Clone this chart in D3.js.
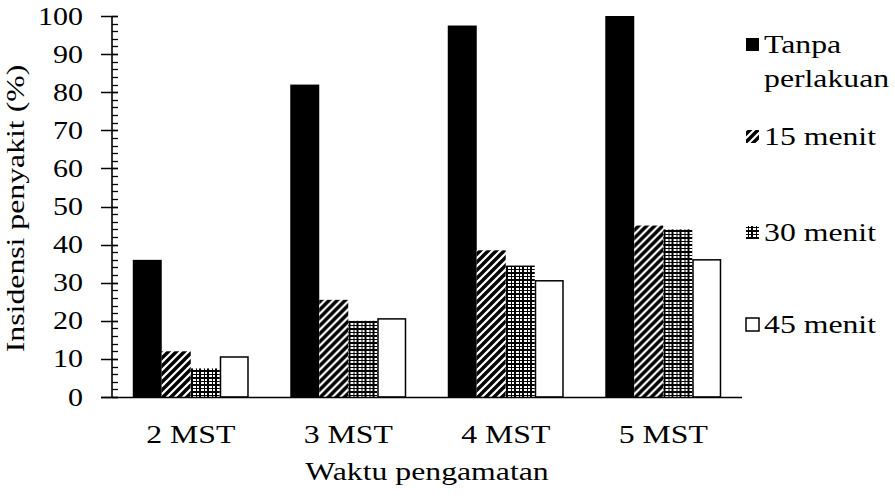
<!DOCTYPE html>
<html>
<head>
<meta charset="utf-8">
<script src="https://cdn.jsdelivr.net/npm/d3@7"></script>
<style>
  html, body { margin: 0; padding: 0; background: #fff; }
  svg { display: block; }
</style>
</head>
<body>
<svg id="chart" width="895" height="498"></svg>
<script>
// ---- data ----
const categories = ["2 MST", "3 MST", "4 MST", "5 MST"];
const seriesNames = ["Tanpa perlakuan", "15 menit", "30 menit", "45 menit"];
const tanpaPerlakuan = [36, 82, 97.5, 100];
const menit15 = [12, 25.5, 38.5, 45];
const menit30 = [7.5, 20, 34.5, 44];
const menit45 = [10.5, 20.5, 30.5, 36];
const yTicks = [0, 10, 20, 30, 40, 50, 60, 70, 80, 90, 100];
const legendLabels = [["Tanpa", "perlakuan"], ["15 menit"], ["30 menit"], ["45 menit"]];
const xTitle = "Waktu pengamatan";
const yTitle = "Insidensi penyakit (%)";

const seriesValues = [tanpaPerlakuan, menit15, menit30, menit45];
const rows = categories.map((c, i) => ({
  cat: c,
  vals: seriesNames.map((s, j) => ({ key: s, idx: j, value: seriesValues[j][i] }))
}));

// ---- layout ----
const svg = d3.select("#chart");
const FAMILY = "Liberation Serif";
const plot = { left: 112, right: 742, top: 16, bottom: 397 };
const FONT = 25, STRETCH = 1.27;

const defs = svg.append("defs");
// wide upward diagonal
const pDiag = defs.append("pattern").attr("id", "pDiag").attr("patternUnits", "userSpaceOnUse")
  .attr("width", 8).attr("height", 8);
pDiag.append("rect").attr("width", 8).attr("height", 8).attr("fill", "#fff");
pDiag.append("path").attr("d", "M0,8 L8,0 M-2,2 L2,-2 M6,10 L10,6")
  .attr("stroke", "#000").attr("stroke-width", 3.4);
// sphere-like dark grid pattern
const pGrid = defs.append("pattern").attr("id", "pGrid").attr("patternUnits", "userSpaceOnUse")
  .attr("width", 8).attr("height", 7);
pGrid.append("rect").attr("width", 8).attr("height", 7).attr("fill", "#000");
[[1,1,3,2],[5,1,2,2],[1,4,3,2],[5,4,2,2]].forEach(r =>
  pGrid.append("rect").attr("x", r[0]).attr("y", r[1]).attr("width", r[2]).attr("height", r[3]).attr("fill", "#fff"));

const fills = ["#000", "url(#pDiag)", "url(#pGrid)", "#fff"];
const strokes = ["none", "none", "none", "#000"];

const x0 = d3.scaleBand().domain(categories).range([plot.left, plot.right]).paddingInner(0).paddingOuter(0);
const x1 = d3.scaleBand().domain(seriesNames).range([0, x0.bandwidth()]).paddingInner(0).paddingOuter(0.716);
const y = d3.scaleLinear().domain([0, 100]).range([plot.bottom, plot.top]);

function stretch(sel, k) {
  sel.each(function () {
    const len = this.getComputedTextLength();
    d3.select(this).attr("textLength", len * k).attr("lengthAdjust", "spacingAndGlyphs");
  });
}
function txt(parent) {
  return parent.append("text").style("font-family", FAMILY).attr("font-size", FONT).attr("fill", "#000");
}

// bars
const groups = svg.append("g").selectAll("g").data(rows).join("g")
  .attr("transform", d => `translate(${x0(d.cat)},0)`);
groups.selectAll("rect").data(d => d.vals).join("rect")
  .attr("x", d => x1(d.key) + (d.idx === 3 ? 0.75 : 0))
  .attr("y", d => y(d.value))
  .attr("width", d => x1.bandwidth() - (d.idx === 3 ? 1.5 : 0))
  .attr("height", d => y(0) - y(d.value))
  .attr("fill", d => fills[d.idx])
  .attr("stroke", d => strokes[d.idx])
  .attr("stroke-width", 1.5);

// y axis: minor ticks (every 2) inside, major crossing
const minor = d3.range(0, 101, 2);
const yAxisG = svg.append("g");
yAxisG.selectAll("line.minor").data(minor).join("line").attr("class", "minor")
  .attr("x1", plot.left).attr("x2", plot.left + 6)
  .attr("y1", d => Math.round(y(d)) + 0.5).attr("y2", d => Math.round(y(d)) + 0.5)
  .attr("stroke", "#000").attr("stroke-width", 1.3);
yAxisG.selectAll("line.major").data(yTicks).join("line").attr("class", "major")
  .attr("x1", plot.left - 11).attr("x2", plot.left + 6)
  .attr("y1", d => Math.round(y(d)) + 0.5).attr("y2", d => Math.round(y(d)) + 0.5)
  .attr("stroke", "#000").attr("stroke-width", 1.5);
yAxisG.append("line").attr("x1", plot.left).attr("x2", plot.left)
  .attr("y1", y(100)).attr("y2", y(0)).attr("stroke", "#000").attr("stroke-width", 1.6);
yTicks.forEach(v => {
  const t = txt(yAxisG).attr("x", 83).attr("y", y(v)).attr("dy", "0.34em")
    .attr("text-anchor", "end").text(v);
  stretch(t, 1.2);
});

// x axis line + labels
svg.append("line").attr("x1", plot.left - 11).attr("x2", plot.right)
  .attr("y1", y(0) + 0.5).attr("y2", y(0) + 0.5).attr("stroke", "#000").attr("stroke-width", 1.6);
const xg = svg.append("g");
categories.forEach(c => {
  const t = txt(xg).attr("x", x0(c) + x0.bandwidth() / 2).attr("y", 443)
    .attr("text-anchor", "middle").text(c);
  stretch(t, STRETCH);
});

// axis titles (centered on plot area)
const xt = txt(svg).attr("x", (plot.left + plot.right) / 2).attr("y", 480)
  .attr("text-anchor", "middle").text(xTitle);
stretch(xt, STRETCH);
const yt = txt(svg).attr("transform", `translate(24,${(plot.top + plot.bottom) / 2 + 2}) rotate(-90)`)
  .attr("text-anchor", "middle").text(yTitle);
stretch(yt, STRETCH);

// legend
const legendY = [45, 137, 233, 325];
const lg = svg.append("g");
seriesNames.forEach((s, i) => {
  lg.append("rect").attr("x", 746).attr("y", legendY[i] - 7).attr("width", 13).attr("height", 13)
    .attr("fill", fills[i]).attr("stroke", i === 3 ? "#000" : "none").attr("stroke-width", 1.5);
  legendLabels[i].forEach((line, k) => {
    const t = txt(lg).attr("x", 764).attr("y", legendY[i] + 8 + k * 34).text(line);
    stretch(t, STRETCH);
  });
});
</script>
</body>
</html>
